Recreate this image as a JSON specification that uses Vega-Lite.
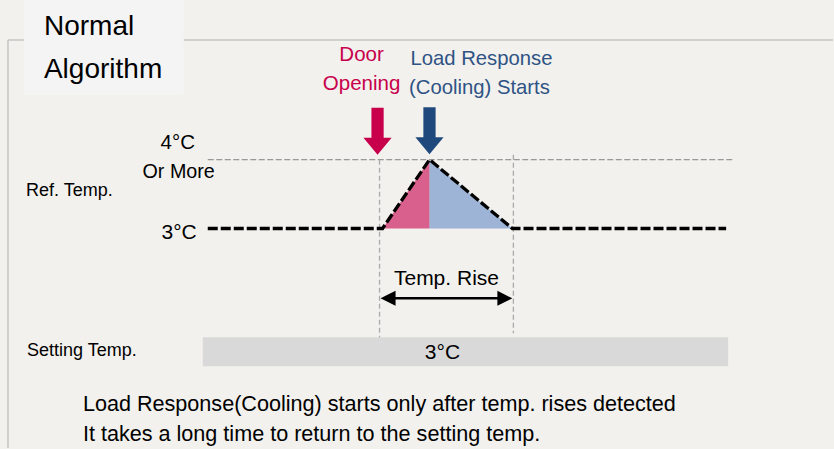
{
  "$schema": "https://vega.github.io/schema/vega-lite/v6.json",
  "autosize": {"type": "fit", "contains": "padding"},
  "width": 834,
  "height": 449,
  "padding": 0,
  "background": "#f2f1ed",
  "config": {"view": {"stroke": null}, "text": {"font": "Liberation Sans, Arial"}},
  "encoding": {
    "x": {"field": "x", "type": "quantitative", "scale": {"domain": [0, 834], "nice": false, "zero": false}, "axis": null},
    "y": {"field": "y", "type": "quantitative", "scale": {"domain": [0, 449], "nice": false, "zero": false, "reverse": true}, "axis": null}
  },
  "layer": [
    {
      "data": {"values": [{"x": 8, "y": 40, "x2": 834, "y2": 40}, {"x": 8, "y": 40, "x2": 8, "y2": 449}]},
      "mark": {"type": "rule", "color": "#c4c4c4", "strokeWidth": 1.5},
      "encoding": {"x2": {"field": "x2"}, "y2": {"field": "y2"}}
    },
    {
      "data": {"values": [{"x": 24, "y": 0, "x2": 184, "y2": 95}]},
      "mark": {"type": "rect", "color": "#f4f4f4"},
      "encoding": {"x2": {"field": "x2"}, "y2": {"field": "y2"}}
    },
    {
      "data": {"values": [{"x": 203, "y": 338, "x2": 729, "y2": 367}]},
      "mark": {"type": "rect", "color": "#d9d9d9"},
      "encoding": {"x2": {"field": "x2"}, "y2": {"field": "y2"}}
    },
    {
      "data": {"values": [{"x": 208, "y": 160, "x2": 734, "y2": 160}]},
      "mark": {"type": "rule", "color": "#999999", "strokeWidth": 1.3, "strokeDash": [6, 2.5]},
      "encoding": {"x2": {"field": "x2"}, "y2": {"field": "y2"}}
    },
    {
      "data": {"values": [{"x": 380, "y": 160, "x2": 380, "y2": 338}, {"x": 514, "y": 155, "x2": 514, "y2": 334}]},
      "mark": {"type": "rule", "color": "#aaaaaa", "strokeWidth": 1.3, "strokeDash": [5, 3]},
      "encoding": {"x2": {"field": "x2"}, "y2": {"field": "y2"}}
    },
    {
      "data": {"values": [{"x": 383, "y": 229, "y2": 229}, {"x": 430, "y": 160, "y2": 229}]},
      "mark": {"type": "area", "color": "#c8004b", "opacity": 0.6},
      "encoding": {"y2": {"field": "y2"}}
    },
    {
      "data": {"values": [{"x": 430, "y": 160, "y2": 229}, {"x": 513, "y": 229, "y2": 229}]},
      "mark": {"type": "area", "color": "#4a78c0", "opacity": 0.5},
      "encoding": {"y2": {"field": "y2"}}
    },
    {
      "data": {"values": [{"x": 208, "y": 229, "o": 1}, {"x": 383, "y": 229, "o": 2}, {"x": 430, "y": 160, "o": 3}, {"x": 513, "y": 229, "o": 4}, {"x": 727, "y": 229, "o": 5}]},
      "mark": {"type": "line", "color": "#000000", "strokeWidth": 3.3, "strokeDash": [10, 3]},
      "encoding": {"order": {"field": "o"}}
    },
    {
      "data": {"values": [{"x": 378, "y": 131.5}]},
      "mark": {"type": "point", "filled": true, "opacity": 1, "color": "#c8004b", "size": 2209, "shape": "M-0.26,-1 L0.26,-1 L0.26,0.28 L0.6,0.28 L0,1 L-0.6,0.28 L-0.26,0.28 Z"},
      "encoding": {}
    },
    {
      "data": {"values": [{"x": 430, "y": 131}]},
      "mark": {"type": "point", "filled": true, "opacity": 1, "color": "#1f497d", "size": 2209, "shape": "M-0.26,-1 L0.26,-1 L0.26,0.28 L0.6,0.28 L0,1 L-0.6,0.28 L-0.26,0.28 Z"},
      "encoding": {}
    },
    {
      "data": {"values": [{"x": 390, "y": 299, "x2": 504, "y2": 299}]},
      "mark": {"type": "rule", "color": "#000000", "strokeWidth": 2.5},
      "encoding": {"x2": {"field": "x2"}, "y2": {"field": "y2"}}
    },
    {
      "data": {"values": [{"x": 388.5, "y": 299}]},
      "mark": {"type": "point", "filled": true, "opacity": 1, "color": "#000000", "size": 225, "shape": "M-1,0 L1,-1 L1,1 Z"},
      "encoding": {}
    },
    {
      "data": {"values": [{"x": 505.5, "y": 299}]},
      "mark": {"type": "point", "filled": true, "opacity": 1, "color": "#000000", "size": 225, "shape": "M1,0 L-1,-1 L-1,1 Z"},
      "encoding": {}
    },
    {
      "data": {"values": [{"x": 44, "y": 35, "label": "Normal"}, {"x": 44, "y": 78, "label": "Algorithm"}]},
      "mark": {"type": "text", "align": "left", "baseline": "alphabetic", "fontSize": 28, "color": "#000000"},
      "encoding": {"text": {"field": "label"}}
    },
    {
      "data": {"values": [{"x": 362, "y": 61, "label": "Door"}, {"x": 362, "y": 90, "label": "Opening"}]},
      "mark": {"type": "text", "align": "center", "baseline": "alphabetic", "fontSize": 20.5, "color": "#c8004b"},
      "encoding": {"text": {"field": "label"}}
    },
    {
      "data": {"values": [{"x": 482, "y": 65, "label": "Load Response"}, {"x": 480, "y": 94, "label": "(Cooling) Starts"}]},
      "mark": {"type": "text", "align": "center", "baseline": "alphabetic", "fontSize": 20.3, "color": "#2f5385"},
      "encoding": {"text": {"field": "label"}}
    },
    {
      "data": {"values": [{"x": 178, "y": 149, "label": "4°C"}]},
      "mark": {"type": "text", "align": "center", "baseline": "alphabetic", "fontSize": 20.5, "color": "#000000"},
      "encoding": {"text": {"field": "label"}}
    },
    {
      "data": {"values": [{"x": 215, "y": 178, "label": "Or More"}]},
      "mark": {"type": "text", "align": "right", "baseline": "alphabetic", "fontSize": 19.7, "color": "#000000"},
      "encoding": {"text": {"field": "label"}}
    },
    {
      "data": {"values": [{"x": 197, "y": 240, "label": "3°C"}]},
      "mark": {"type": "text", "align": "right", "baseline": "alphabetic", "fontSize": 21, "color": "#000000"},
      "encoding": {"text": {"field": "label"}}
    },
    {
      "data": {"values": [{"x": 26, "y": 196, "label": "Ref. Temp."}, {"x": 27, "y": 357, "label": "Setting Temp."}]},
      "mark": {"type": "text", "align": "left", "baseline": "alphabetic", "fontSize": 18, "color": "#000000"},
      "encoding": {"text": {"field": "label"}}
    },
    {
      "data": {"values": [{"x": 447, "y": 286, "label": "Temp. Rise"}, {"x": 443, "y": 360, "label": "3°C"}]},
      "mark": {"type": "text", "align": "center", "baseline": "alphabetic", "fontSize": 21, "color": "#000000"},
      "encoding": {"text": {"field": "label"}}
    },
    {
      "data": {"values": [{"x": 83, "y": 412, "label": "Load Response(Cooling) starts only after temp. rises detected"}, {"x": 83, "y": 442, "label": "It takes a long time to return to the setting temp."}]},
      "mark": {"type": "text", "align": "left", "baseline": "alphabetic", "fontSize": 21.6, "color": "#000000"},
      "encoding": {"text": {"field": "label"}}
    }
  ]
}
